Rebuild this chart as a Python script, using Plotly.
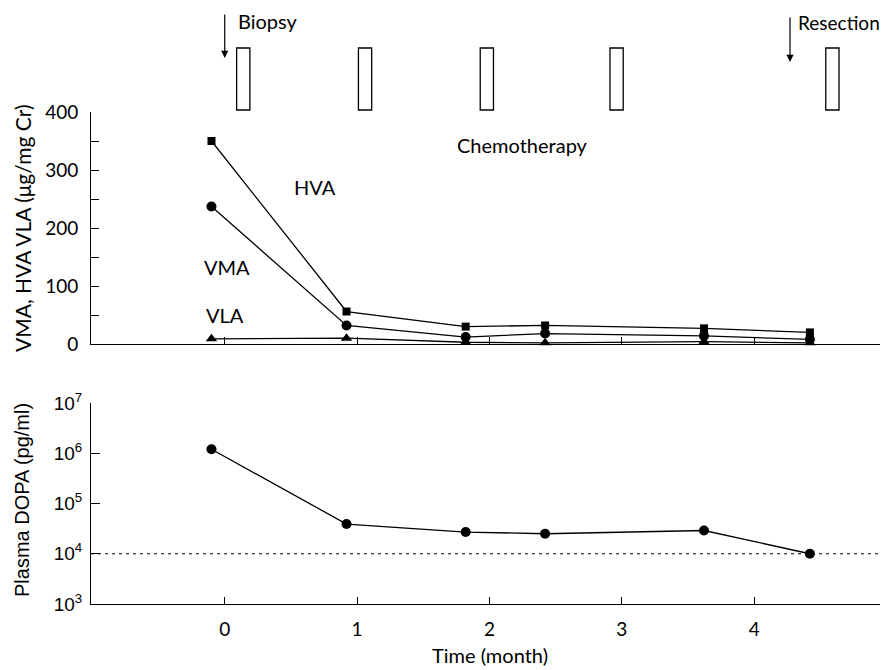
import plotly.graph_objects as go

# ---- data ----
months = [-0.1, 0.92, 1.82, 2.42, 3.62, 4.42]
hva = [350, 56, 30, 32, 27, 20]
vma = [237, 32, 12, 18, 14, 8]
vla = [9, 10, 3, 2, 4, 2]
dopa = [1.2e6, 3.9e4, 2.7e4, 2.5e4, 2.9e4, 1.0e4]
dopa_ref = 1e4
chemo_start = [0.09, 1.01, 1.93, 2.91, 4.54]
chemo_width = 0.1
x_ticks = [0, 1, 2, 3, 4, 5]
upper_ticks = [0, 100, 200, 300, 400]
lower_tickvals = [1e3, 1e4, 1e5, 1e6, 1e7]
lower_ticktext = ["10<sup>3</sup>", "10<sup>4</sup>", "10<sup>5</sup>", "10<sup>6</sup>", "10<sup>7</sup>"]

OPT = "Lato, 'Open Sans', sans-serif"
HELV = "'Liberation Sans', Arial, sans-serif"
LW = 1.3
XR = [-1.01, 5.01]

# page body has an 8px margin: size the figure so it ends at the window edge
OFF = 8
W, H = 888 - OFF, 670 - OFF
L = 91 - OFF
PW = W - L


def px(sx):
    return (sx - OFF - L) / PW


def py(sy):
    return 1 - (sy - OFF) / H


fig = go.Figure()
fig.add_trace(go.Scatter(x=months, y=hva, mode="lines+markers", name="HVA",
                         line=dict(color="black", width=LW),
                         marker=dict(symbol="square", size=8, color="black"),
                         cliponaxis=False, xaxis="x", yaxis="y"))
fig.add_trace(go.Scatter(x=months, y=vma, mode="lines+markers", name="VMA",
                         line=dict(color="black", width=LW),
                         marker=dict(symbol="circle", size=10, color="black"),
                         cliponaxis=False, xaxis="x", yaxis="y"))
fig.add_trace(go.Scatter(x=months, y=vla, mode="lines+markers", name="VLA",
                         line=dict(color="black", width=LW),
                         marker=dict(symbol="triangle-up", size=10, color="black"),
                         cliponaxis=False, xaxis="x", yaxis="y"))
fig.add_trace(go.Scatter(x=XR, y=[dopa_ref, dopa_ref], mode="lines",
                         line=dict(color="black", width=1, dash="3px,4px"),
                         cliponaxis=False, xaxis="x2", yaxis="y2", showlegend=False))
fig.add_trace(go.Scatter(x=months, y=dopa, mode="lines+markers", name="DOPA",
                         line=dict(color="black", width=LW),
                         marker=dict(symbol="circle", size=10, color="black"),
                         cliponaxis=False, xaxis="x2", yaxis="y2"))

xcommon = dict(range=XR, showgrid=False, zeroline=False, showline=True,
               linecolor="black", linewidth=1, ticks="inside", ticklen=7,
               tickcolor="black", tickvals=x_ticks, automargin=False)

fig.update_layout(
    width=W, height=H,
    margin=dict(l=L, r=0, t=0, b=0),
    paper_bgcolor="white", plot_bgcolor="white",
    showlegend=False,
    xaxis=dict(**xcommon, anchor="y", showticklabels=False, domain=[0, 1]),
    yaxis=dict(range=[0, 400], domain=[py(344), py(112)], anchor="x",
               showgrid=False, zeroline=False, showline=True, linecolor="black",
               linewidth=1, ticks="inside", ticklen=8, tickcolor="black",
               tickvals=upper_ticks, automargin=False, ticklabelstandoff=8,
               minor=dict(ticks="inside", ticklen=8, tickcolor="black", dtick=50, tick0=0),
               tickfont=dict(family=OPT, size=19, color="black")),
    xaxis2=dict(**xcommon, anchor="y2", domain=[0, 1], ticklabelstandoff=8,
                tickfont=dict(family=OPT, size=19, color="black")),
    yaxis2=dict(type="log", range=[3, 7], domain=[py(604), py(403)], anchor="x2",
                showgrid=False, zeroline=False, showline=True, linecolor="black",
                linewidth=1, ticks="inside", ticklen=9, tickcolor="black",
                tickvals=lower_tickvals, ticktext=lower_ticktext, automargin=False,
                ticklabelstandoff=4,
                tickfont=dict(family=HELV, size=19, color="black")),
)

# chemotherapy boxes
for s in chemo_start:
    fig.add_shape(type="rect", xref="x", yref="paper", x0=s, x1=s + chemo_width,
                  y0=py(110), y1=py(48), line=dict(color="black", width=1.3),
                  fillcolor="white")

anns = [
    dict(x=0.68, y=270, xref="x", yref="y", text="HVA", xanchor="center", size=20),
    dict(x=0.02, y=132, xref="x", yref="y", text="VMA", xanchor="center", size=20),
    dict(x=0.0, y=50, xref="x", yref="y", text="VLA", xanchor="center", size=20),
    dict(x=2.25, y=343, xref="x", yref="y", text="Chemotherapy", xanchor="center", size=20),
    dict(x=px(236), y=py(21), xref="paper", yref="paper", text="Biopsy", xanchor="left", size=20),
    dict(x=px(796), y=py(22), xref="paper", yref="paper", text="Resection", xanchor="left", size=19),
    dict(x=px(490), y=py(655), xref="paper", yref="paper", text="Time (month)", xanchor="center", size=20),
]
for a in anns:
    sz = a.pop("size")
    a.update(showarrow=False, yanchor="middle", font=dict(family=OPT, size=sz, color="black"))
    fig.add_annotation(**a)

# arrows
for xa, ytop, ybot in [(0.0, 13, 58), (4.27, 16, 62)]:
    fig.add_annotation(x=xa, y=py(ybot), xref="x", yref="paper", ax=0, ay=-(ybot - ytop),
                       axref="pixel", ayref="pixel", text="", showarrow=True,
                       arrowhead=2, arrowsize=1.2, arrowwidth=1.2, arrowcolor="black")

# y-axis titles
fig.add_annotation(x=px(22), y=py(228), xref="paper", yref="paper",
                   text="VMA, HVA VLA (μg/mg Cr)", textangle=-90, showarrow=False,
                   xanchor="center", yanchor="middle",
                   font=dict(family=OPT, size=21, color="black"))
fig.add_annotation(x=px(22), y=py(500), xref="paper", yref="paper",
                   text="Plasma DOPA (pg/ml)", textangle=-90, showarrow=False,
                   xanchor="center", yanchor="middle",
                   font=dict(family=HELV, size=20, color="black"))

fig.write_html("out.html")
